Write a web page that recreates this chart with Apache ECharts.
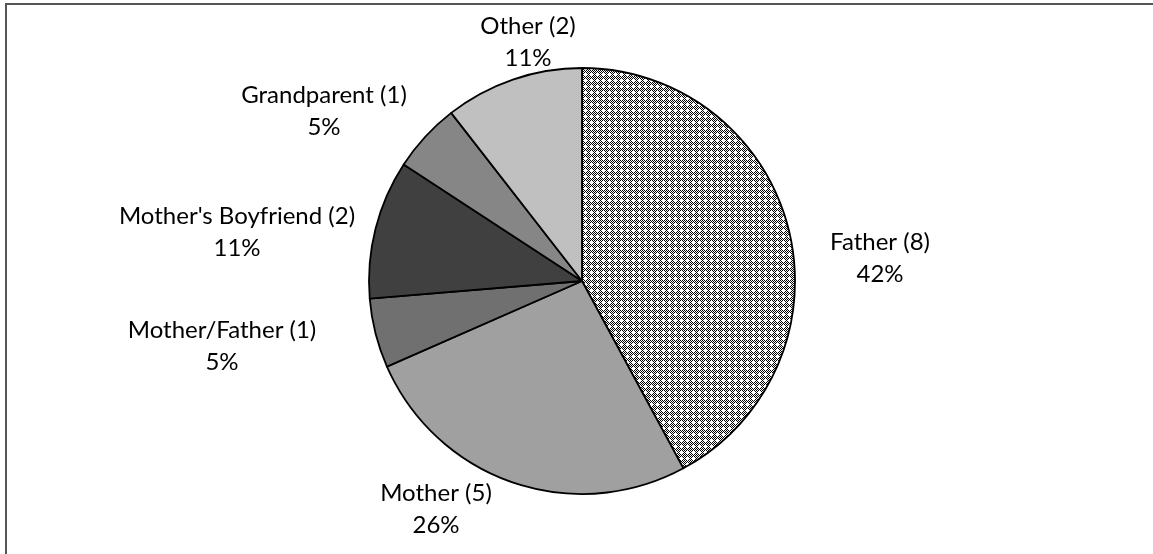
<!DOCTYPE html>
<html>
<head>
<meta charset="utf-8">
<script src="https://cdn.jsdelivr.net/npm/echarts@6/dist/echarts.min.js"></script>
<style>
  html, body { margin: 0; padding: 0; background: #fff; }
  #chart { position: absolute; left: 0; top: 0; width: 1153px; height: 554px; }
  .frame {
    position: absolute; left: 5px; top: 3px; right: 0; bottom: 0;
    border-top: 2px solid #555; border-left: 2px solid #555;
    pointer-events: none;
  }
</style>
</head>
<body>
<div id="chart"></div>
<div class="frame"></div>
<script>
// relationship of perpetrator, counts per group
const categories = ["Father", "Mother", "Mother/Father", "Mother's Boyfriend", "Grandparent", "Other"];
const counts = [8, 5, 1, 2, 1, 2];

// where Excel dropped each label (centre of the text block, px)
const labelSpots = [[880, 258], [436, 509], [222, 346], [237, 232], [324, 111], [528, 42]];

const sliceColors = [null, "#a0a0a0", "#707070", "#404040", "#868686", "#c0c0c0"];

// dotted fill used for the Father slice: 1px checker with small white crosses
function makeDots() {
  const c = document.createElement("canvas");
  c.width = 6;
  c.height = 6;
  const ctx = c.getContext("2d");
  ctx.fillStyle = "#fff";
  ctx.fillRect(0, 0, 6, 6);
  ctx.fillStyle = "#000";
  const holes = ["2,2", "4,2", "3,1", "3,3"];
  for (let y = 0; y < 6; y++) {
    for (let x = 0; x < 6; x++) {
      if ((x + y) % 2 === 0 && holes.indexOf(x + "," + y) < 0) {
        ctx.fillRect(x, y, 1, 1);
      }
    }
  }
  return c;
}

const total = counts.reduce((a, b) => a + b, 0);
const chart = echarts.init(document.getElementById("chart"));

const option = {
  animation: false,
  series: [
    {
      type: "pie",
      center: [582, 281],
      radius: 213,
      startAngle: 90,
      clockwise: true,
      avoidLabelOverlap: false,
      data: categories.map((name, i) => ({
        name: name,
        value: counts[i],
        itemStyle: {
          color: i === 0 ? { image: makeDots(), repeat: "repeat" } : sliceColors[i],
        },
      })),
      itemStyle: {
        borderColor: "#000",
        borderWidth: 1.8,
      },
      label: {
        show: true,
        position: "outside",
        color: "#000",
        fontFamily: "Lato",
        fontSize: 24,
        lineHeight: 32,
        formatter: (p) => `${p.name} (${p.value})\n${Math.round((p.value / total) * 100)}%`,
      },
      labelLine: { show: false },
      labelLayout: (params) => {
        const spot = labelSpots[params.dataIndex];
        return { x: spot[0], y: spot[1], align: "center", verticalAlign: "middle" };
      },
      emphasis: { disabled: true },
    },
  ],
};

chart.setOption(option);
</script>
</body>
</html>
